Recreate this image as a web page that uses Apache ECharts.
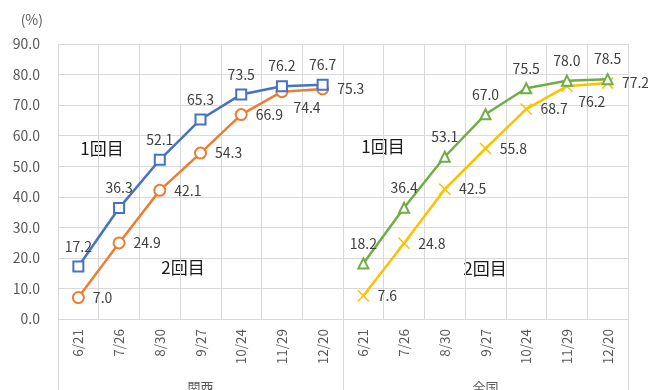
<!DOCTYPE html>
<html lang="ja">
<head>
    <meta charset="UTF-8">
    <title>接種率</title>
    <style>
        html,body{margin:0;padding:0;background:#fff;}
        #chart{width:648px;height:390px;}
    </style>
</head>
<body>
    <div id="chart"></div>
    <script src="https://cdn.jsdelivr.net/npm/echarts@6/dist/echarts.min.js"></script>
    <script>
        // 日付とグループ
        let dates=['6/21','7/26','8/30','9/27','10/24','11/29','12/20'];
        let groups=['関西','全国'];
        let yTicks=[0,10,20,30,40,50,60,70,80,90];

        // 接種率 (%)
        let kansaiFirst=[17.2,36.3,52.1,65.3,73.5,76.2,76.7];
        let kansaiSecond=[7.0,24.9,42.1,54.3,66.9,74.4,75.3];
        let zenkokuFirst=[18.2,36.4,53.1,67.0,75.5,78.0,78.5];
        let zenkokuSecond=[7.6,24.8,42.5,55.8,68.7,76.2,77.2];

        let font='"Noto Sans CJK JP","Noto Sans",sans-serif';
        let gridColor='#d9d9d9';
        let textColor='#595959';
        let labelColor='#404040';

        let chart=echarts.init(document.getElementById('chart'));

        function dateAxis(gridIndex){
            return {
                type:'category',
                gridIndex,
                data:dates,
                boundaryGap:true,
                axisLine:{show:true,lineStyle:{color:gridColor,width:1}},
                axisTick:{show:false},
                splitLine:{show:true,lineStyle:{color:gridColor,width:1}},
                axisLabel:{
                    rotate:90,
                    interval:0,
                    margin:10,
                    color:textColor,
                    fontSize:13.5,
                    fontFamily:font,
                },
            };
        }
        function groupAxis(gridIndex,name){
            return {
                type:'category',
                gridIndex,
                position:'bottom',
                data:[name],
                boundaryGap:true,
                axisLine:{show:false},
                axisTick:{show:true,interval:0,length:71,lineStyle:{color:gridColor,width:1}},
                splitLine:{show:false},
                axisLabel:{margin:62,color:textColor,fontSize:13,fontFamily:font},
            };
        }
        function valueAxis(gridIndex,showLabel){
            return {
                type:'value',
                gridIndex,
                min:yTicks[0],
                max:yTicks[yTicks.length-1],
                interval:10,
                name:showLabel?'(%)':'',
                nameLocation:'end',
                nameGap:17,
                nameTextStyle:{color:textColor,fontSize:14,fontFamily:font,align:'right',padding:[0,15,0,0]},
                axisLine:{show:false},
                axisTick:{show:false},
                splitLine:{show:true,lineStyle:{color:gridColor,width:1}},
                axisLabel:{
                    show:showLabel,
                    margin:18,
                    color:textColor,
                    fontSize:14,
                    fontFamily:font,
                    formatter:(v)=>v.toFixed(1),
                },
            };
        }

        function firstDose(name,values,axisIndex,color,symbol){
            return {
                name,
                type:'line',
                xAxisIndex:axisIndex*2,
                yAxisIndex:axisIndex,
                data:values,
                symbol,
                symbolSize:10,
                lineStyle:{color,width:2.5},
                itemStyle:{color,borderColor:color,borderWidth:1.5},
                label:{
                    show:true,
                    position:'top',
                    distance:7,
                    color:labelColor,
                    fontSize:14,
                    fontFamily:font,
                    formatter:(p)=>p.value.toFixed(1),
                },
                z:3,
            };
        }
        function secondDose(name,values,axisIndex,color,symbol){
            return {
                name,
                type:'line',
                xAxisIndex:axisIndex*2,
                yAxisIndex:axisIndex,
                data:values.map((v,i)=>i===5 ? {value:v,label:{offset:[-3,16]}} : v),
                symbol,
                symbolSize:11,
                lineStyle:{color,width:2.5},
                itemStyle:{color,borderColor:color,borderWidth:1.5},
                label:{
                    show:true,
                    position:'right',
                    distance:8,
                    color:labelColor,
                    fontSize:14,
                    fontFamily:font,
                    formatter:(p)=>(typeof p.value==='number'?p.value:p.data.value).toFixed(1),
                },
                z:2,
            };
        }

        let cross='path://M0,0L10,10M0,10L10,0';

        let option={
            animation:false,
            textStyle:{fontFamily:font},
            grid:[
                {left:58,top:44,width:285,bottom:71,containLabel:false,outerBoundsMode:'none'},
                {left:343,top:44,width:285,bottom:71,containLabel:false,outerBoundsMode:'none'},
            ],
            xAxis:[
                dateAxis(0),
                groupAxis(0,groups[0]),
                dateAxis(1),
                groupAxis(1,groups[1]),
            ],
            yAxis:[
                valueAxis(0,true),
                valueAxis(1,false),
            ],
            series:[
                firstDose('関西 1回目',kansaiFirst,0,'#4472C4','emptyRect'),
                secondDose('関西 2回目',kansaiSecond,0,'#ED7D31','emptyCircle'),
                firstDose('全国 1回目',zenkokuFirst,1,'#70AD47','emptyTriangle'),
                secondDose('全国 2回目',zenkokuSecond,1,'#FFC000',cross),
            ],
            graphic:[
                {type:'text',x:102,y:149,style:{text:'1回目',fontSize:17,fontFamily:font,fill:'#1a1a1a',align:'center',verticalAlign:'middle'}},
                {type:'text',x:183,y:268,style:{text:'2回目',fontSize:17,fontFamily:font,fill:'#1a1a1a',align:'center',verticalAlign:'middle'}},
                {type:'text',x:383,y:147,style:{text:'1回目',fontSize:17,fontFamily:font,fill:'#1a1a1a',align:'center',verticalAlign:'middle'}},
                {type:'text',x:485,y:269,style:{text:'2回目',fontSize:17,fontFamily:font,fill:'#1a1a1a',align:'center',verticalAlign:'middle'}},
            ],
        };
        chart.setOption(option);
    </script>
</body>
</html>
